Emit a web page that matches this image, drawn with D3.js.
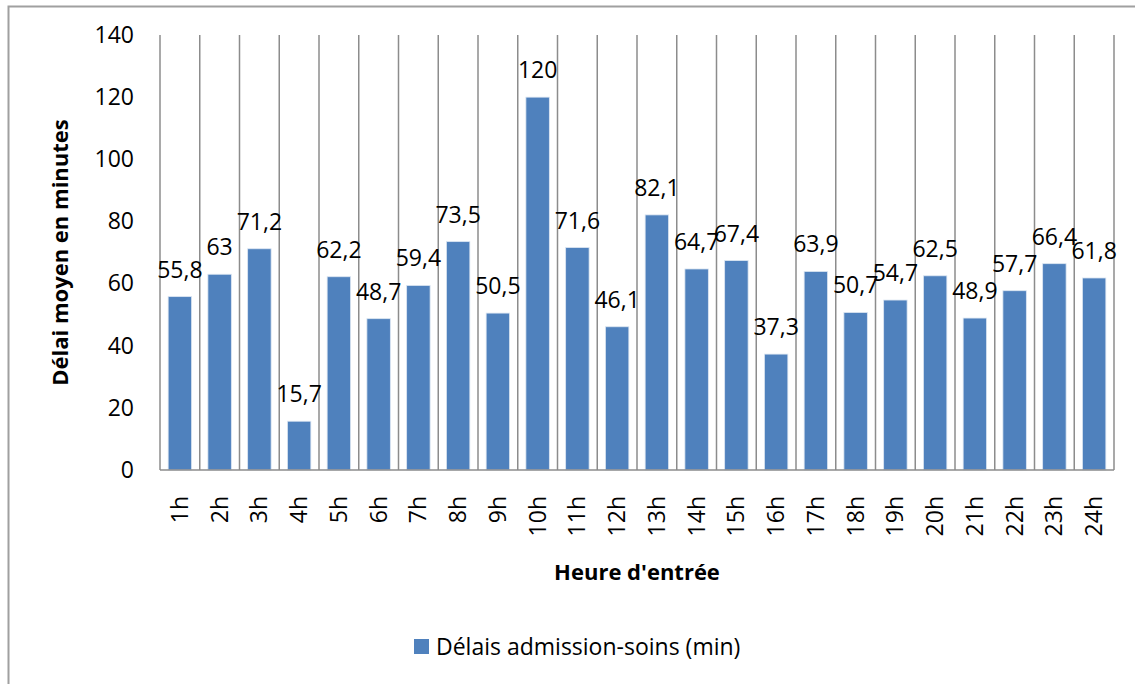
<!DOCTYPE html>
<html>
<head>
<meta charset="utf-8">
<script src="https://cdn.jsdelivr.net/npm/d3@7"></script>
<style>
  body { margin: 0; background: #fff; }
  text { font-family: "Open Sans", "Noto Sans", sans-serif; fill: #000; }
</style>
</head>
<body>
<script>
// heures d'entrée et délais moyens (min)
var heures = ["1h","2h","3h","4h","5h","6h","7h","8h","9h","10h","11h","12h",
              "13h","14h","15h","16h","17h","18h","19h","20h","21h","22h","23h","24h"];
var delais = [55.8, 63, 71.2, 15.7, 62.2, 48.7, 59.4, 73.5, 50.5, 120, 71.6, 46.1,
              82.1, 64.7, 67.4, 37.3, 63.9, 50.7, 54.7, 62.5, 48.9, 57.7, 66.4, 61.8];
var yTicks = [0, 20, 40, 60, 80, 100, 120, 140];
var serie = "Délais admission-soins (min)";

var W = 1135, H = 684;
var m = {left: 160, right: 21, top: 35, bottom: 214};

var svg = d3.select("body").append("svg")
  .attr("width", W).attr("height", H);

// cadre
svg.append("path")
  .attr("d", "M8.5," + H + "V6.5H" + W)
  .attr("fill", "none").attr("stroke", "#a0a0a0").attr("stroke-width", 2);

var x = d3.scaleBand().domain(heures)
  .range([m.left, W - m.right]).paddingInner(0.41).paddingOuter(0.205);
var y = d3.scaleLinear().domain([0, 140]).range([H - m.bottom, m.top]);

var step = x.step();
var grid = svg.append("g");
grid.selectAll("line").data(d3.range(heures.length + 1)).join("line")
  .attr("x1", function(i) { return m.left + i * step; })
  .attr("x2", function(i) { return m.left + i * step; })
  .attr("y1", y(140)).attr("y2", y(0))
  .attr("stroke", "#8c8c8c").attr("stroke-width", 1.5);

svg.selectAll("rect.bar").data(delais).join("rect")
  .attr("class", "bar")
  .attr("x", function(d, i) { return x(heures[i]); })
  .attr("y", function(d) { return y(d); })
  .attr("width", x.bandwidth())
  .attr("height", function(d) { return y(0) - y(d); })
  .attr("fill", "#4f81bd")
  .attr("stroke", "#dce6f2").attr("stroke-width", 0.8);

// axe x
svg.append("line")
  .attr("x1", m.left).attr("x2", W - m.right)
  .attr("y1", y(0)).attr("y2", y(0))
  .attr("stroke", "#8c8c8c").attr("stroke-width", 1.5);

var yAxis = d3.axisLeft(y).tickValues(yTicks).tickSize(0).tickPadding(26);
var gy = svg.append("g").attr("transform", "translate(" + m.left + ",0)").call(yAxis);
gy.select(".domain").remove();
gy.selectAll("text").style("font-size", "23px").attr("fill", "#000");

var gx = svg.append("g").attr("transform", "translate(0," + y(0) + ")")
  .call(d3.axisBottom(x).tickSize(0));
gx.select(".domain").remove();
gx.selectAll("text")
  .style("font-size", "23px").attr("fill", "#000")
  .attr("text-anchor", "end")
  .attr("dy", "0.35em")
  .attr("transform", "translate(0,26) rotate(-90)")
  .attr("x", 0).attr("y", 0);

// étiquettes de valeurs
svg.selectAll("text.lbl").data(delais).join("text")
  .attr("class", "lbl")
  .attr("x", function(d, i) { return x(heures[i]) + x.bandwidth() / 2; })
  .attr("y", function(d) { return y(d) - 19; })
  .attr("text-anchor", "middle")
  .style("font-size", "23px")
  .text(function(d) { return String(d).replace(".", ","); });

svg.append("text")
  .attr("transform", "translate(68," + (y(70)) + ") rotate(-90)")
  .attr("text-anchor", "middle")
  .style("font-size", "22px").style("font-weight", "bold")
  .text("Délai moyen en minutes");

svg.append("text")
  .attr("x", (m.left + W - m.right) / 2).attr("y", 580)
  .attr("text-anchor", "middle")
  .style("font-size", "22px").style("font-weight", "bold")
  .text("Heure d'entrée");

// légende
var lg = svg.append("g").attr("transform", "translate(414,639)");
lg.append("rect").attr("width", 15).attr("height", 15).attr("fill", "#4f81bd");
lg.append("text").attr("x", 22).attr("y", 16)
  .style("font-size", "23px").text(serie);
</script>
</body>
</html>
